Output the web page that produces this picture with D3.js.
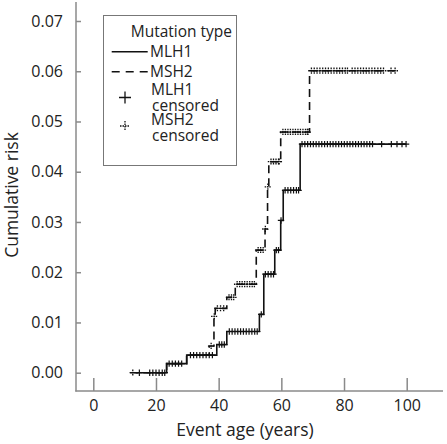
<!DOCTYPE html>
<html>
<head>
<meta charset="utf-8">
<script src="https://cdn.jsdelivr.net/npm/d3@7"></script>
<style>
  html, body { margin: 0; padding: 0; background: #fff; }
  svg { display: block; }
  text { font-family: "Open Sans", Lato, sans-serif; fill: #222; }
</style>
</head>
<body>
<svg id="chart" width="447" height="444"></svg>
<script>
// ---- Data ----
const xTicks = [0, 20, 40, 60, 80, 100];
const yTicks = [0, 0.01, 0.02, 0.03, 0.04, 0.05, 0.06, 0.07];

// MLH1: [age, cumulative risk] step points
const mlh1Start = 13.5, mlh1End = 99.8;
const mlh1Steps = [[23.4, 0.0018], [29.8, 0.0035], [39.4, 0.0056], [42.6, 0.0082],
  [53.0, 0.0116], [54.4, 0.0196], [57.9, 0.0244], [59.8, 0.0303], [60.6, 0.0363], [66.0, 0.0455]];
const mlh1Censored = [14.7, 18.0, 19.0, 20.0, 21.0, 22.0, 22.8,
  24.2, 25.2, 26.2, 27.2, 28.2,
  31.0, 32.0, 33.0, 34.0, 35.0, 36.0, 37.0, 38.0,
  40.2, 41.0, 41.8,
  43.4, 44.3, 45.2, 46.1, 47.0, 47.9, 48.8, 49.7, 50.6, 51.5, 52.3,
  53.6,
  54.9, 55.8, 56.7, 57.5,
  58.4, 59.1,
  59.9,
  61.2, 62.1, 63.0, 63.9, 64.8, 65.5,
  66.6, 67.5, 68.4, 69.3, 70.2, 71.1, 72.0, 72.9, 73.8, 74.7, 75.6, 76.5, 77.4, 78.3,
  79.2, 80.1, 81.0, 81.9, 82.8, 83.7, 84.6, 85.5, 86.4, 87.3, 88.2, 89.1,
  92.0, 95.1, 96.9, 98.5, 99.8];

// MSH2
const msh2Start = 11.8, msh2End = 97.0;
const msh2Steps = [[23.4, 0.0018], [29.8, 0.0035], [37.0, 0.0053], [38.5, 0.0112], [38.9, 0.0128],
  [42.6, 0.0150], [45.3, 0.0176], [52.0, 0.0244], [54.8, 0.0286], [55.6, 0.0370], [56.0, 0.0420],
  [59.8, 0.0479], [69.0, 0.0601]];
const msh2Censored = [12.6, 37.6, 38.6,
  39.6, 40.6, 41.6,
  43.3, 44.1, 44.8,
  45.9, 46.7, 47.5, 48.3, 49.1, 49.9, 50.7, 51.4,
  52.6, 53.4, 54.2,
  54.9, 55.7,
  56.7, 57.5, 58.3, 59.1,
  59.3, 60.5, 61.3, 62.1, 62.9, 63.7, 64.5, 65.3, 66.1, 66.9, 67.7, 68.5,
  68.3, 69.6, 70.5, 71.4, 72.3, 73.2, 74.1, 75.0, 75.9, 76.8, 77.7, 78.6, 79.5, 80.4, 81.1,
  82.6, 83.5, 84.4, 85.3, 86.2, 87.1, 88.0, 88.9, 89.8,
  90.8, 91.7, 92.6,
  95.0, 96.3];

const legendTitle = "Mutation type";
const legendLabels = ["MLH1", "MSH2", ["MLH1", "censored"], ["MSH2", "censored"]];
const xLabel = "Event age (years)";
const yLabel = "Cumulative risk";

// ---- Drawing ----
const FONT = "'Open Sans', Lato, sans-serif";
const svg = d3.select("#chart");
const axisColor = "#8a8a8a";
const x = d3.scaleLinear().domain([0, 100]).range([93.3, 406.7]);
const y = d3.scaleLinear().domain([0, 0.07]).range([372.7, 21]);

// axes lines
svg.append("line").attr("x1", 76).attr("x2", 76).attr("y1", 2).attr("y2", 391.5)
  .attr("stroke", axisColor).attr("stroke-width", 1.5);
svg.append("line").attr("x1", 75.3).attr("x2", 443).attr("y1", 391).attr("y2", 391)
  .attr("stroke", axisColor).attr("stroke-width", 1.5);

const yAxis = d3.axisLeft(y).tickValues(yTicks).tickFormat(d3.format(".2f"))
  .tickSizeInner(-5).tickSizeOuter(0).tickPadding(13);
const gy = svg.append("g").attr("transform", "translate(76,0)").call(yAxis);
gy.select(".domain").remove();
gy.selectAll(".tick line").attr("stroke", axisColor).attr("stroke-width", 1.5);
gy.selectAll(".tick text").attr("font-size", 16).attr("fill", "#222").attr("font-family", FONT);

const xAxis = d3.axisBottom(x).tickValues(xTicks).tickFormat(d3.format("d"))
  .tickSizeInner(-13).tickSizeOuter(0).tickPadding(9);
const gx = svg.append("g").attr("transform", "translate(0,391)").call(xAxis);
gx.select(".domain").remove();
gx.selectAll(".tick line").attr("stroke", axisColor).attr("stroke-width", 1.5);
gx.selectAll(".tick text").attr("font-size", 16).attr("fill", "#222").attr("font-family", FONT);

// axis titles
svg.append("text").attr("x", 245).attr("y", 436).attr("text-anchor", "middle")
  .attr("font-size", 17.5).text(xLabel);
svg.append("text").attr("transform", "translate(18,195) rotate(-90)")
  .attr("text-anchor", "middle").attr("font-size", 17.5).text(yLabel);

// curves
function stepPoints(start, steps, end) {
  const pts = [[start, 0]].concat(steps);
  pts.push([end, steps[steps.length - 1][1]]);
  return pts;
}
function levelAt(steps, a) {
  let v = 0;
  for (const s of steps) if (s[0] <= a) v = s[1];
  return v;
}
const line = d3.line().x(d => x(d[0])).y(d => y(d[1])).curve(d3.curveStepAfter);

svg.append("path").datum(stepPoints(mlh1Start, mlh1Steps, mlh1End))
  .attr("d", line).attr("fill", "none").attr("stroke", "#111").attr("stroke-width", 1.6);
svg.append("path").datum(stepPoints(msh2Start, msh2Steps, msh2End))
  .attr("d", line).attr("fill", "none").attr("stroke", "#111").attr("stroke-width", 1.6)
  .attr("stroke-dasharray", "8,5");

function plusPath(cx, cy, r) {
  return `M${cx - r},${cy}H${cx + r}M${cx},${cy - r}V${cy + r}`;
}
svg.append("g").selectAll("path").data(mlh1Censored).join("path")
  .attr("d", a => plusPath(x(a), y(levelAt(mlh1Steps, a)), 3.2))
  .attr("stroke", "#111").attr("stroke-width", 1.2).attr("fill", "none");
svg.append("g").selectAll("path").data(msh2Censored).join("path")
  .attr("d", a => plusPath(x(a), y(levelAt(msh2Steps, a)), 3.2))
  .attr("stroke", "#111").attr("stroke-width", 1.3).attr("fill", "none")
  .attr("stroke-dasharray", "1.5,0.8");

// legend
const lg = svg.append("g");
lg.append("rect").attr("x", 103.5).attr("y", 15.5).attr("width", 133).attr("height", 150)
  .attr("fill", "#fff").attr("stroke", "#777").attr("stroke-width", 1);
lg.append("text").attr("x", 130.7).attr("y", 36.7).attr("font-size", 15.5).text(legendTitle);
lg.append("line").attr("x1", 111.7).attr("x2", 147.7).attr("y1", 51.7).attr("y2", 51.7)
  .attr("stroke", "#111").attr("stroke-width", 1.6);
lg.append("text").attr("x", 150).attr("y", 56.7).attr("font-size", 15.5).text(legendLabels[0]);
lg.append("line").attr("x1", 111.7).attr("x2", 147.7).attr("y1", 71.7).attr("y2", 71.7)
  .attr("stroke", "#111").attr("stroke-width", 1.6).attr("stroke-dasharray", "8,6");
lg.append("text").attr("x", 150).attr("y", 76.7).attr("font-size", 15.5).text(legendLabels[1]);
lg.append("path").attr("d", plusPath(125, 97.5, 6)).attr("stroke", "#111")
  .attr("stroke-width", 1.3).attr("fill", "none");
lg.append("text").attr("x", 151).attr("y", 95).attr("font-size", 15.5).text(legendLabels[2][0]);
lg.append("text").attr("x", 152).attr("y", 110.5).attr("font-size", 15.5).text(legendLabels[2][1]);
lg.append("path").attr("d", plusPath(125, 126, 5)).attr("stroke", "#111")
  .attr("stroke-width", 1.3).attr("fill", "none").attr("stroke-dasharray", "1.5,1");
lg.append("text").attr("x", 151).attr("y", 124.5).attr("font-size", 15.5).text(legendLabels[3][0]);
lg.append("text").attr("x", 152).attr("y", 140.5).attr("font-size", 15.5).text(legendLabels[3][1]);
</script>
</body>
</html>
